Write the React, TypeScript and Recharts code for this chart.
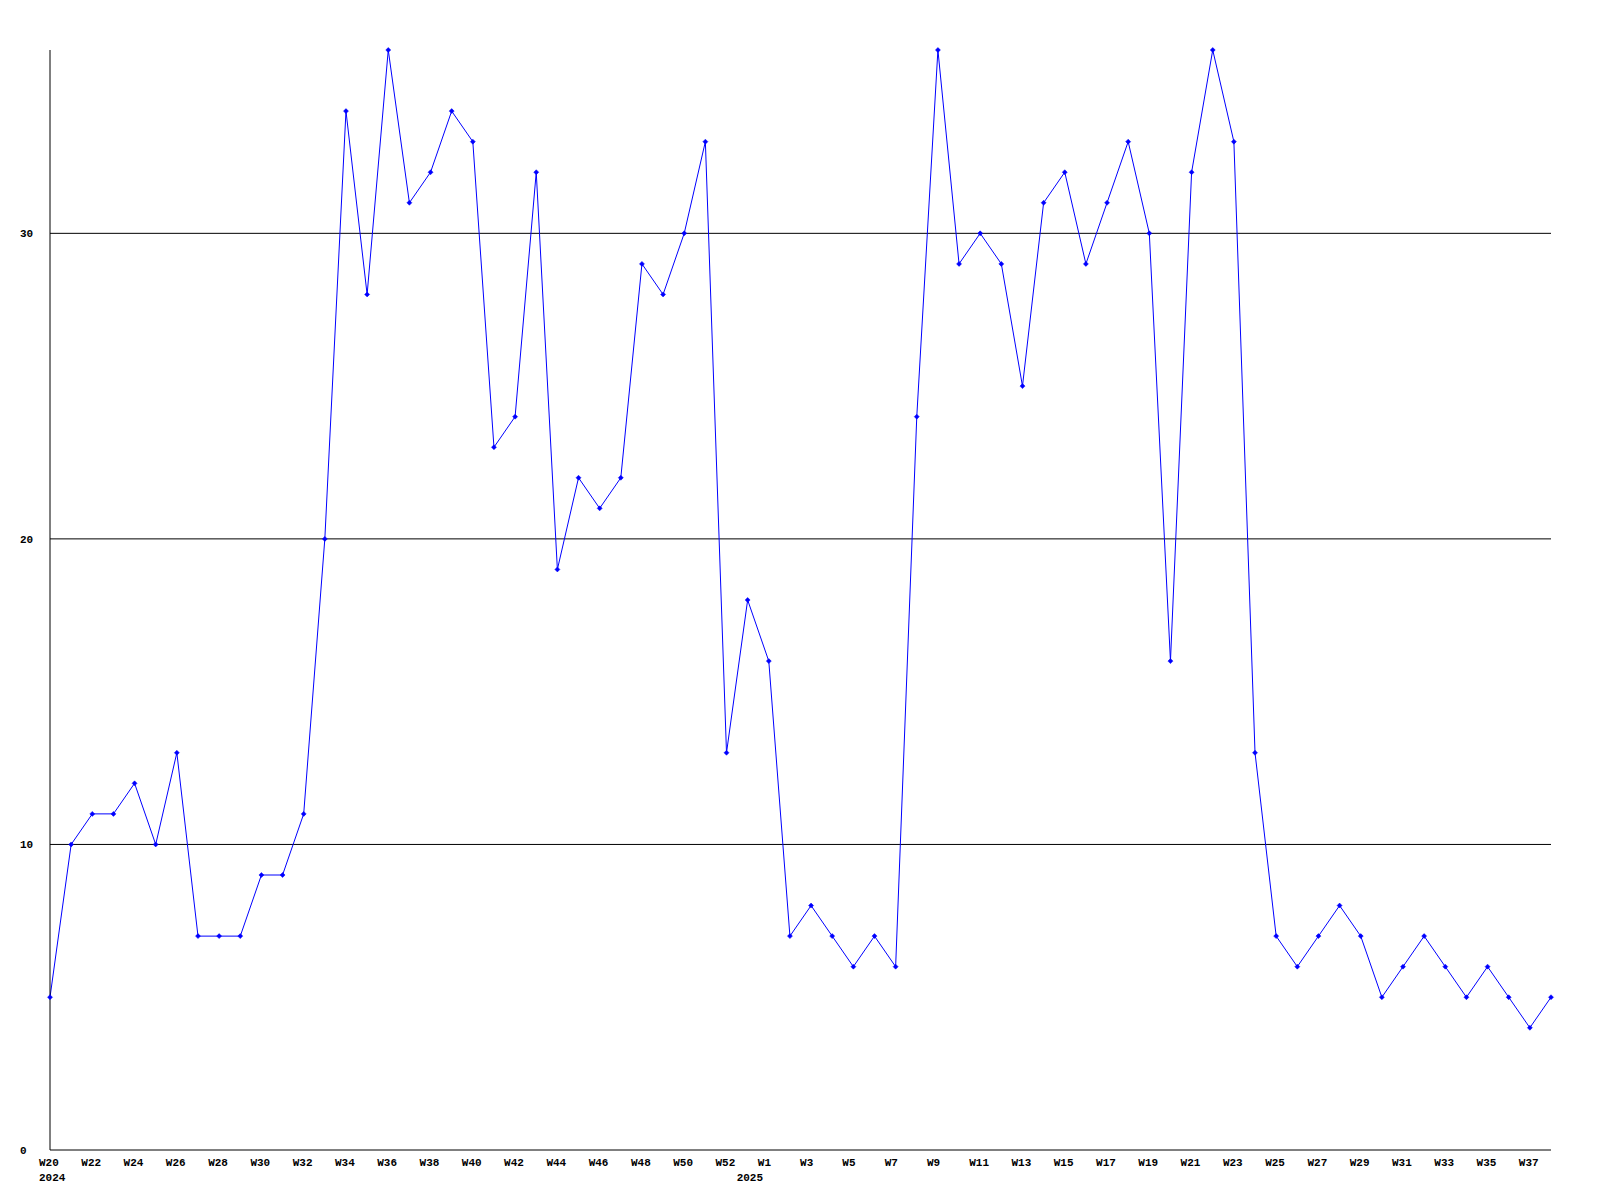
import React from 'react';
import { LineChart, Line, XAxis, YAxis, ReferenceLine } from 'recharts';

// week labels: W20..W52 of 2024, one extra week at the turn of the year, then W1..W38 of 2025
const weeks: string[] = [
  'W20', 'W21', 'W22', 'W23', 'W24', 'W25', 'W26', 'W27', 'W28', 'W29',
  'W30', 'W31', 'W32', 'W33', 'W34', 'W35', 'W36', 'W37', 'W38', 'W39',
  'W40', 'W41', 'W42', 'W43', 'W44', 'W45', 'W46', 'W47', 'W48', 'W49',
  'W50', 'W51', 'W52', 'W53',
  'W1', 'W2', 'W3', 'W4', 'W5', 'W6', 'W7', 'W8', 'W9', 'W10',
  'W11', 'W12', 'W13', 'W14', 'W15', 'W16', 'W17', 'W18', 'W19', 'W20',
  'W21', 'W22', 'W23', 'W24', 'W25', 'W26', 'W27', 'W28', 'W29', 'W30',
  'W31', 'W32', 'W33', 'W34', 'W35', 'W36', 'W37', 'W38',
];

const counts: number[] = [
  5, 10, 11, 11, 12, 10, 13, 7, 7, 7,
  9, 9, 11, 20, 34, 28, 36, 31, 32, 34,
  33, 23, 24, 32, 19, 22, 21, 22, 29, 28,
  30, 33, 13, 18,
  16, 7, 8, 7, 6, 7, 6, 24, 36, 29,
  30, 29, 25, 31, 32, 29, 31, 33, 30, 16,
  32, 36, 33, 13, 7, 6, 7, 8, 7, 5,
  6, 7, 6, 5, 6, 5, 4, 5,
];

const yearLabels: Record<number, string> = { 0: '2024', 33: '2025' };
const yTicks = [0, 10, 20, 30];
const gridValues = [10, 20, 30];

const data = weeks.map((w, i) => ({ key: i, week: w, count: counts[i] }));

const font = '"Liberation Mono", "DejaVu Sans Mono", monospace';

function XTick(props: any) {
  const { x, y, payload } = props;
  const i = payload.index;
  return (
    <g>
      {i % 2 === 0 && (
        <text x={x - 11} y={y + 8} textAnchor="start" fontFamily={font} fontWeight="bold" fontSize={11} fill="#000">
          {weeks[i]}
        </text>
      )}
      {yearLabels[i] && (
        <text x={x - 11} y={y + 23} textAnchor="start" fontFamily={font} fontWeight="bold" fontSize={11} fill="#000">
          {yearLabels[i]}
        </text>
      )}
    </g>
  );
}

function YTick(props: any) {
  const { y, payload } = props;
  return (
    <text x={20} y={y + 4} textAnchor="start" fontFamily={font} fontWeight="bold" fontSize={11} fill="#000">
      {payload.value}
    </text>
  );
}

function Marker(props: any) {
  const { cx, cy } = props;
  if (cx == null || cy == null) return null;
  return (
    <path
      d={`M${cx - 2.5},${cy} L${cx},${cy - 2.5} L${cx + 2.5},${cy} L${cx},${cy + 2.5} Z`}
      fill="#0000ff"
      stroke="#0000ff"
      strokeWidth={0.5}
    />
  );
}

export default function App() {
  return (
    <div style={{ position: 'absolute', left: 0, top: 0, width: 1600, height: 1200, background: '#fff' }}>
      <LineChart width={1600} height={1200} data={data} margin={{ top: 50, right: 49, bottom: 0, left: 0 }}>
        {gridValues.map((v) => (
          <ReferenceLine key={v} y={v} stroke="#000" strokeWidth={1} ifOverflow="extendDomain" />
        ))}
        <XAxis
          dataKey="key"
          type="category"
          interval={0}
          height={50}
          tickLine={false}
          axisLine={{ stroke: '#000', strokeWidth: 1 }}
          tick={<XTick />}
        />
        <YAxis
          width={50}
          domain={[0, 36]}
          ticks={yTicks}
          tickLine={false}
          axisLine={{ stroke: '#000', strokeWidth: 1 }}
          tick={<YTick />}
        />
        <Line
          type="linear"
          dataKey="count"
          stroke="#0000ff"
          strokeWidth={1}
          dot={<Marker />}
          activeDot={false}
          isAnimationActive={false}
        />
      </LineChart>
    </div>
  );
}
